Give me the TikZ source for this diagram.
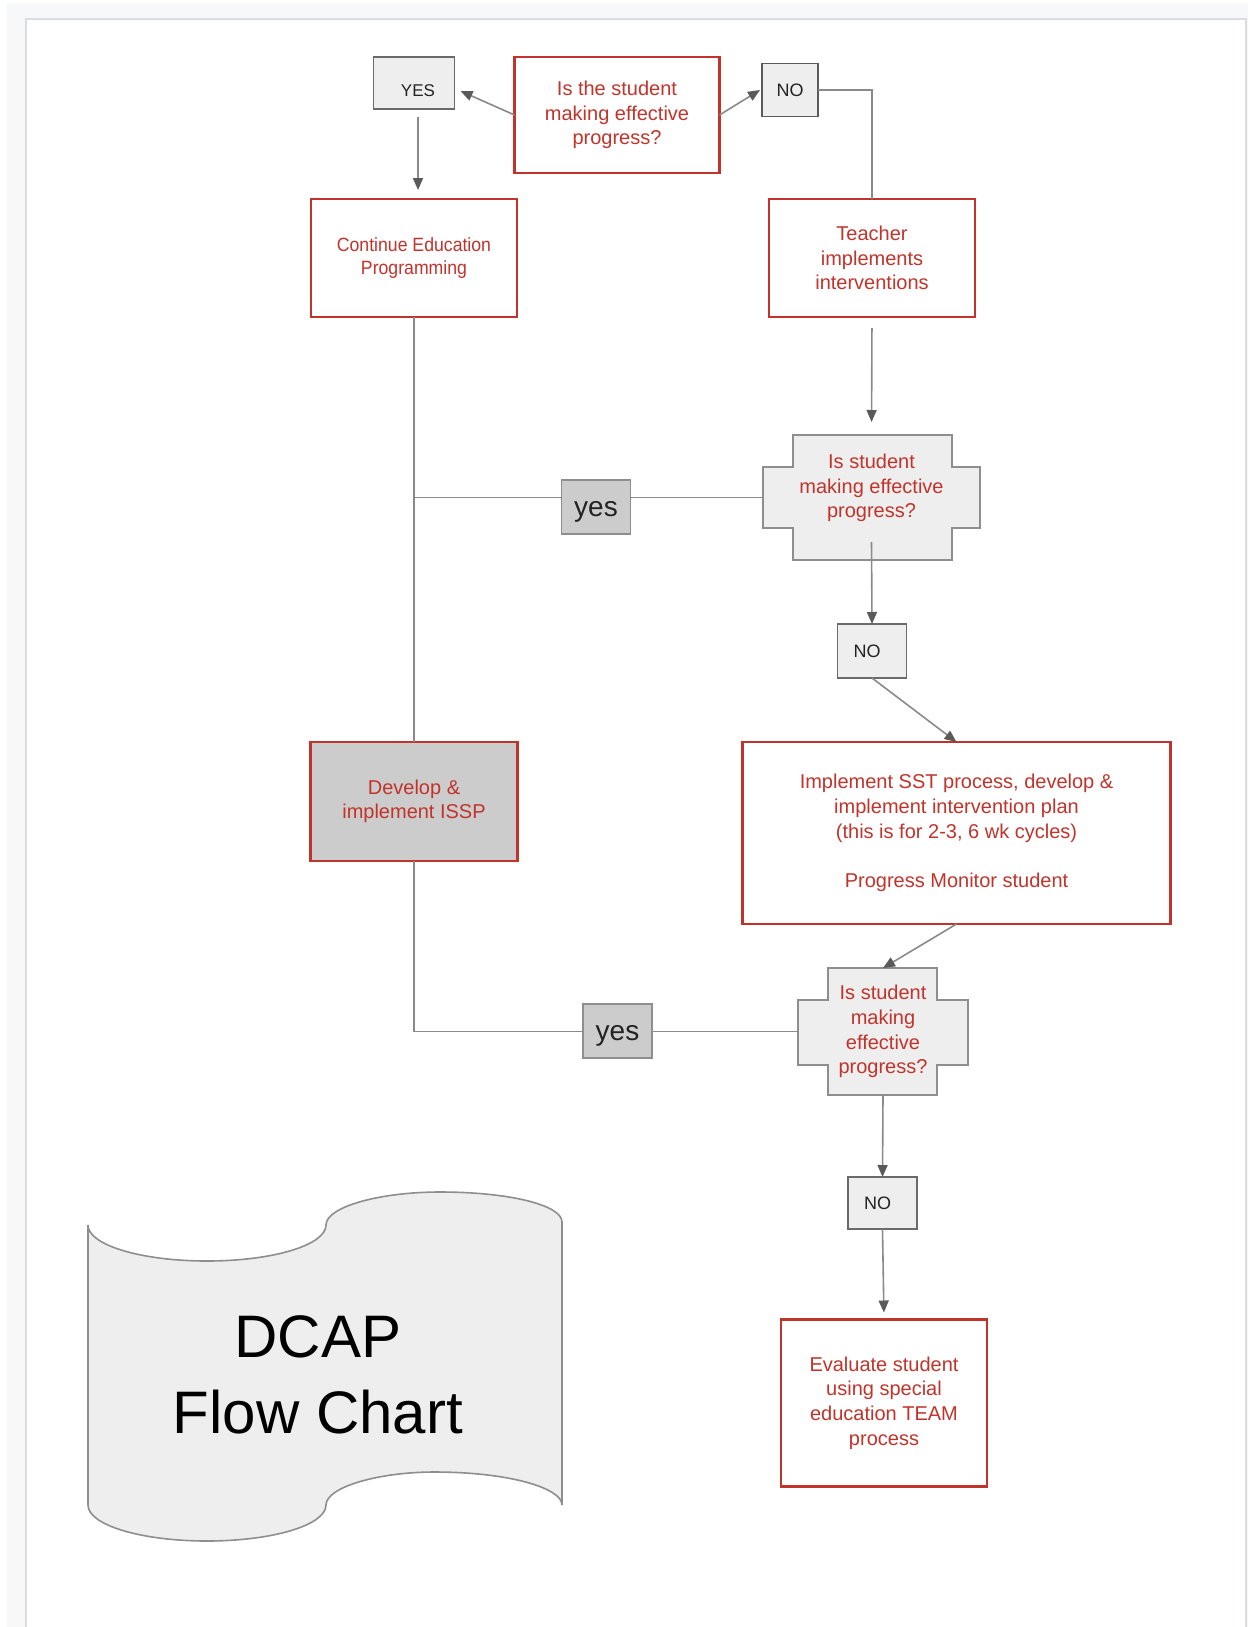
\documentclass[tikz,border=0pt]{standalone}
\usepackage{fontspec}
\setmainfont{Liberation Sans}
\newfontfamily\condfont[FakeStretch=0.92]{Liberation Sans}
\usetikzlibrary{arrows.meta,calc}
\definecolor{redc}{RGB}{192,52,44}
\definecolor{lgray}{HTML}{EEEEEE}
\definecolor{mgray}{HTML}{CCCCCC}
\definecolor{bgout}{HTML}{F7F8F9}
\definecolor{pageedge}{HTML}{DADCE0}
\definecolor{linec}{HTML}{8A8A8A}
\definecolor{arrc}{HTML}{5A5A5A}
\definecolor{gedge}{HTML}{6A6A6A}
\definecolor{dedge}{HTML}{8E8E8E}
\definecolor{txtc}{HTML}{222222}
\begin{document}
\begin{tikzpicture}[x=0.5pt,y=-0.5pt,
  redbox/.style={draw=redc, line width=1.1pt, fill=white, text=redc, align=center,
    inner sep=0pt, outer sep=0pt, font=\fontsize{10}{12.3}\selectfont},
  graybox/.style={draw=gedge, line width=0.8pt, fill=lgray, text=txtc, align=center,
    inner sep=0pt, outer sep=0pt},
  yesbox/.style={draw=dedge, line width=0.9pt, fill=mgray, text=txtc, inner sep=0pt,
    outer sep=0pt, minimum width=34.5pt, minimum height=27pt, text height=9.5pt,
    text depth=0.2pt, font=\fontsize{14}{16}\selectfont},
  decshape/.style={draw=dedge, line width=1pt, fill=lgray},
  dtext/.style={text=redc, align=center, inner sep=0pt, outer sep=0pt,
    font=\fontsize{10}{12.4}\selectfont},
  anchorbox/.style={inner sep=0pt, outer sep=0pt},
  ln/.style={draw=linec, line width=0.8pt},
  arr/.style={draw=linec, line width=0.8pt, -{Triangle[length=6pt,width=5pt,color=arrc]}},
  scroll/.style={draw=dedge, line width=0.8pt, fill=lgray}
]
\useasboundingbox (0,0) rectangle (1248,1627);
% background and page
\fill[white] (0,0) rectangle (1248,1627);
\fill[bgout] (7,3) rectangle (1248,1627);
\fill[pageedge] (25,18) rectangle (1247,1627);
\fill[white] (27,20) rectangle (1245,1627);

% decision shapes
\draw[decshape] (793,435) -- (952,435) -- (952,467) -- (980,467) -- (980,528) -- (952,528)
  -- (952,560) -- (793,560) -- (793,528) -- (763,528) -- (763,467) -- (793,467) -- cycle;
\draw[decshape] (828,968) -- (937,968) -- (937,1000) -- (968,1000) -- (968,1065) -- (937,1065)
  -- (937,1095) -- (828,1095) -- (828,1065) -- (798,1065) -- (798,1000) -- (828,1000) -- cycle;

% nodes
\node[redbox, minimum width=102.5pt, minimum height=58pt] (q0) at (617,115)
  {Is the student\\making effective\\progress?};
\node[graybox, minimum width=40.5pt, minimum height=26pt, text height=13.1pt, text depth=0pt,
  font=\fontsize{8.5}{10}\selectfont] (ytop) at (414,83) {\hspace*{4pt}YES};
\node[graybox, draw=arrc, minimum width=28pt, minimum height=26.5pt, font=\fontsize{9}{10}\selectfont]
  (ntop) at (790,90) {NO};
\node[redbox, minimum width=103pt, minimum height=59pt, font=\condfont\fontsize{9.6}{11.6}\selectfont]
  (cont) at (414,258) {Continue Education\\Programming};
\node[redbox, minimum width=103pt, minimum height=59pt] (teacher) at (872,258)
  {Teacher\\implements\\interventions};
\node[anchorbox, minimum width=108.5pt, minimum height=62.5pt] (d1) at (871.5,497.5) {};
\node[dtext] (d1t) at (871.5,488) {Is student\\making effective\\progress?};
\node[redbox, fill=mgray, minimum width=103.5pt, minimum height=59.5pt] (issp) at (414,801.5)
  {Develop \&\\implement ISSP};
\node[graybox, minimum width=34.5pt, minimum height=27pt, font=\fontsize{9}{10}\selectfont]
  (no2) at (872,651) {NO\hspace*{5pt}};
\node[redbox, minimum width=214pt, minimum height=91pt] (sst) at (956.5,833)
  {Implement SST process, develop \&\\implement intervention plan\\(this is for 2-3, 6 wk cycles)\\[12.3pt]Progress Monitor student};
\node[dtext, minimum width=85pt, minimum height=63.5pt] (d2) at (883,1031.5)
  {Is student\\making\\effective\\progress?};
\node[graybox, minimum width=34.5pt, minimum height=26pt, font=\fontsize{9}{10}\selectfont]
  (no3) at (882.5,1203) {NO\hspace*{5pt}};
\node[redbox, minimum width=103pt, minimum height=83.5pt] (evalb) at (884,1403)
  {Evaluate student\\using special\\education TEAM\\process};

% connectors
\draw[arr] (q0.west) -- ($(ytop.east)+(6,8)$);
\draw[arr] (q0.east) -- ($(ntop.west)+(-2,0)$);
\draw[ln] (ntop.east) -| (teacher.north);
\draw[arr, shorten <=4pt, shorten >=4.5pt] ([xshift=2pt]ytop.south) -- ([xshift=2pt]cont.north);
\draw[arr, shorten <=5.5pt, shorten >=6.5pt] (teacher.south) -- (d1.north);
\coordinate (j1) at (cont.south |- d1.west);
\draw[ln] (cont.south) -- (issp.north);
\draw[ln] (j1) -- (d1.west);
\draw[arr] ([yshift=9pt]d1.south) -- (no2.north);
\draw[arr] (no2.south) -- (sst.north);
\draw[arr] (sst.south) -- (d2.north);
\draw[ln] (d2.west) -| (issp.south);
\draw[arr] (d2.south) -- (no3.north);
\draw[arr, shorten >=3.5pt] (no3.south) -- (evalb.north);

% yes labels on the lines
\node[yesbox] (yes1) at (596,507) {yes};
\node[yesbox] (yes2) at (617.5,1031) {yes};

% title scroll
\draw[scroll] (88,1225) .. controls (88,1245) and (141,1261) .. (207,1261)
  .. controls (273,1261) and (326,1245) .. (326,1225)
  .. controls (326,1207) and (379,1192) .. (440,1192)
  .. controls (509,1192) and (562,1205) .. (562,1222)
  -- (562,1505)
  .. controls (562,1488) and (509,1472) .. (434,1472)
  .. controls (379,1472) and (326,1487) .. (326,1505)
  .. controls (326,1525) and (273,1541) .. (207,1541)
  .. controls (141,1541) and (88,1525) .. (88,1505) -- cycle;
\node[align=center, inner sep=0pt, font=\fontsize{30}{38}\selectfont] (title) at (318,1375)
  {DCAP\\Flow Chart};
\end{tikzpicture}
\end{document}
